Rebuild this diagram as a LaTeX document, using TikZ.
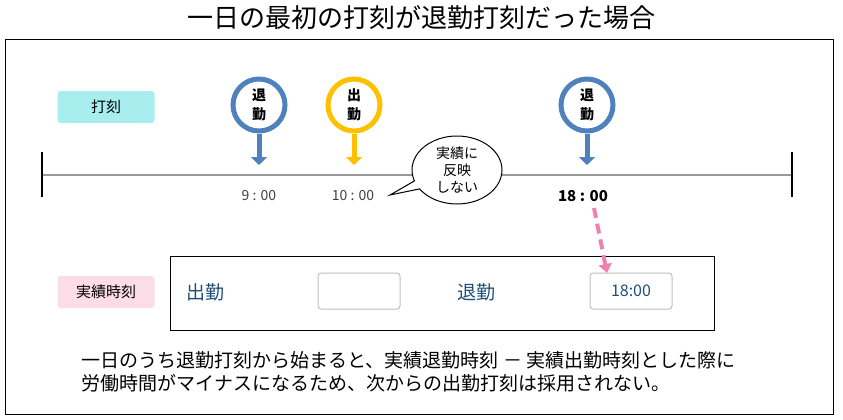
\documentclass[tikz,border=0pt]{standalone}
\usepackage{fontspec}
\setmainfont{Noto Sans CJK JP}
\usetikzlibrary{arrows.meta,shapes.callouts}
\definecolor{pinblue}{HTML}{4F81BD}
\definecolor{pinyellow}{HTML}{FFC000}
\definecolor{lcyan}{HTML}{A8EEEE}
\definecolor{lpink}{HTML}{FCDCE6}
\definecolor{darkblue}{HTML}{1F4E79}
\definecolor{dpink}{HTML}{F080B0}
\tikzset{
  lbl/.style={rounded corners=3pt,minimum width=97pt,minimum height=32pt,font=\fontsize{15}{17}\selectfont},
  pin/.style={circle,line width=5pt,minimum size=52pt,fill=white,font=\bfseries\fontsize{14}{19}\selectfont,align=center,inner sep=0pt},
  pinarrow/.style={line width=5pt,-{Triangle[length=8pt,width=16pt]}},
  tm/.style={font=\fontsize{14}{16}\selectfont,text=black!75},
  field/.style={draw=black!25,rounded corners=3pt,minimum width=82pt,minimum height=36pt,line width=1pt,font=\fontsize{16}{18}\selectfont,text=darkblue},
}
\begin{document}
\begin{tikzpicture}[x=1pt,y=-1pt]
\useasboundingbox (0,0) rectangle (843,420);
\node[font=\fontsize{26}{28}\selectfont] (title) at (421,18) {一日の最初の打刻が退勤打刻だった場合};
\draw[line width=1pt] (5,40) rectangle (833,414);
\coordinate (tl) at (42,175); \coordinate (tr) at (792,175);
\draw[black!40,line width=2pt] (tl) -- (tr);
\draw[line width=2pt] (42,152) -- (42,197);
\draw[line width=2pt] (792,152) -- (792,197);
\node[lbl,fill=lcyan] (l1) at (106,107) {打刻};
\node[lbl,fill=lpink] (l2) at (106,292) {実績時刻};
\foreach \n/\x/\c/\t in {p1/259/pinblue/退\\勤, p2/354/pinyellow/出\\勤, p3/587/pinblue/退\\勤}{
  \node[pin,draw=\c] (\n) at (\x,105) {\t};
  \coordinate (\n e) at (\x,165);
  \draw[pinarrow,\c] (\n.south) -- (\n e);
}
\node[tm] (t1) at (259,196) {9 : 00};
\node[tm] (t2) at (353,196) {10 : 00};
\node[font=\bfseries\fontsize{15}{17}\selectfont] (t3) at (583,196) {18 : 00};
\node[ellipse callout,draw,fill=white,line width=1pt,minimum width=90pt,minimum height=68pt,callout absolute pointer={(390,195)},align=center,font=\fontsize{14}{17}\selectfont,inner sep=0pt] (bub) at (457,170) {実績に\\反映\\しない};
\draw[line width=1pt] (170,256) rectangle (714,330);
\node[font=\fontsize{19}{21}\selectfont,text=darkblue] (a1) at (205,292) {出勤};
\node[field] (f1) at (359,291) {};
\node[font=\fontsize{19}{21}\selectfont,text=darkblue] (a2) at (476,292) {退勤};
\node[field] (f2) at (631,291) {18:00};
\coordinate (pe) at (607,273);
\draw[dpink,line width=4pt,dash pattern=on 10pt off 6pt,-{Triangle[length=9pt,width=13pt]}] (594,208) -- (pe);
\node[anchor=west,font=\fontsize{19}{23}\selectfont,align=left] (txt) at (78,372) {一日のうち退勤打刻から始まると、実績退勤時刻 － 実績出勤時刻とした際に\\労働時間がマイナスになるため、次からの出勤打刻は採用されない。};
\end{tikzpicture}
\end{document}
